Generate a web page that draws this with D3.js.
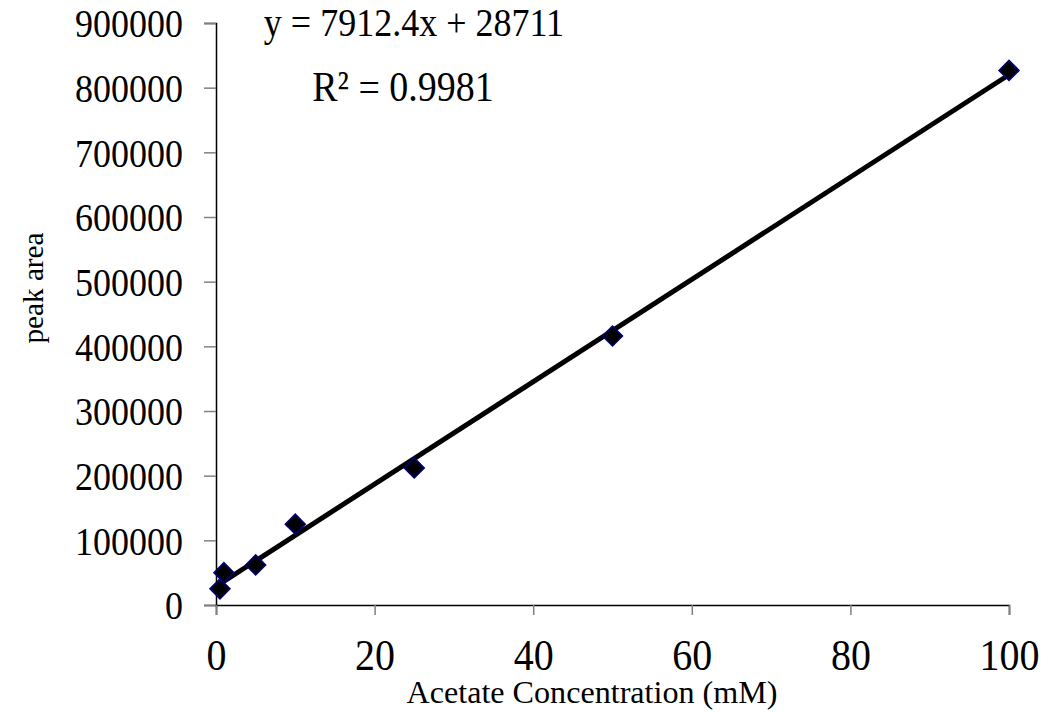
<!DOCTYPE html>
<html>
<head>
<meta charset="utf-8">
<script src="https://cdn.jsdelivr.net/npm/d3@7/dist/d3.min.js"></script>
<style>
  html, body { margin: 0; padding: 0; background: #fff; }
  svg text { font-family: "Liberation Serif", "Times New Roman", serif; fill: #000; }
</style>
</head>
<body>
<svg id="chart" width="1045" height="713"></svg>
<script>
// Calibration data: acetate concentration (mM) vs. peak area
const concentrations = [0.5, 1, 5, 10, 25, 50, 100];
const peakAreas = [25000, 50000, 62000, 125000, 212000, 416000, 826700];

// Linear fit reported for the series
const fitSlope = 7912.4;
const fitIntercept = 28711;
const fitR2 = 0.9981;

const xTicks = [0, 20, 40, 60, 80, 100];
const yTicks = [0, 100000, 200000, 300000, 400000, 500000, 600000, 700000, 800000, 900000];

const xTitle = "Acetate Concentration (mM)";
const yTitle = "peak area";

const svg = d3.select("#chart");
const plot = { left: 216, right: 1009, top: 23, bottom: 605 };
const textStretch = 1.12; // glyphs are drawn slightly taller than wide

const x = d3.scaleLinear().domain([0, 100]).range([plot.left, plot.right]);
const y = d3.scaleLinear().domain([0, 900000]).range([plot.bottom, plot.top]);

// Y axis
const yAxis = svg.append("g")
  .attr("transform", `translate(${plot.left},0)`)
  .call(d3.axisLeft(y).tickValues(yTicks).tickSize(12).tickPadding(21).tickFormat(d3.format("d")));
yAxis.select(".domain").attr("stroke", "#000").attr("stroke-width", 1.5);
yAxis.selectAll(".tick line").attr("stroke", "#808080").attr("stroke-width", 1.5);
yAxis.selectAll(".tick text")
  .attr("font-family", "Liberation Serif, Times New Roman, serif")
  .attr("font-size", 36)
  .attr("dy", "0.34em")
  .attr("transform", `scale(1,${textStretch})`);

// X axis
const xAxis = svg.append("g")
  .attr("transform", `translate(0,${plot.bottom})`)
  .call(d3.axisBottom(x).tickValues(xTicks).tickSize(10).tickFormat(d3.format("d")));
xAxis.select(".domain").attr("stroke", "#000").attr("stroke-width", 1.5);
xAxis.selectAll(".tick line").attr("stroke", "#808080").attr("stroke-width", 1.5);
xAxis.selectAll(".tick text")
  .attr("font-family", "Liberation Serif, Times New Roman, serif")
  .attr("font-size", 40)
  .attr("y", 0)
  .attr("dy", "0.35em")
  .attr("transform", `translate(0,${654 - plot.bottom}) scale(1,${textStretch})`);

// Trend line from the fitted equation over the data range
const xExtent = d3.extent(concentrations);
const fitLine = d3.line().x(d => x(d)).y(d => y(fitSlope * d + fitIntercept));
svg.append("path")
  .datum(xExtent)
  .attr("d", fitLine)
  .attr("fill", "none")
  .attr("stroke", "#000")
  .attr("stroke-width", 5);

// Data markers (diamonds)
const diamond = d3.symbol().type(d3.symbolSquare).size(200);
svg.append("g").selectAll("path")
  .data(concentrations.map((c, i) => [c, peakAreas[i]]))
  .join("path")
  .attr("d", diamond)
  .attr("transform", d => `translate(${x(d[0])},${y(d[1])}) rotate(45)`)
  .attr("fill", "#000")
  .attr("stroke", "#000080")
  .attr("stroke-width", 1.5);

// Equation label
svg.append("text")
  .attr("transform", `translate(414,22) scale(1,${textStretch})`)
  .attr("dy", "0.35em")
  .attr("text-anchor", "middle")
  .attr("font-size", 36)
  .text(`y = ${fitSlope}x + ${fitIntercept}`);
svg.append("text")
  .attr("transform", `translate(403,86) scale(1,${textStretch})`)
  .attr("dy", "0.35em")
  .attr("text-anchor", "middle")
  .attr("font-size", 38)
  .text(`R² = ${fitR2}`);

// Axis titles
svg.append("text")
  .attr("transform", `translate(592,692) scale(1,${textStretch})`)
  .attr("dy", "0.35em")
  .attr("text-anchor", "middle")
  .attr("font-size", 28)
  .attr("textLength", 371).attr("lengthAdjust", "spacingAndGlyphs")
  .text(xTitle);

svg.append("text")
  .attr("transform", `translate(43,288) rotate(-90) scale(1,${textStretch})`)
  .attr("text-anchor", "middle")
  .attr("font-size", 27)
  .attr("textLength", 111).attr("lengthAdjust", "spacingAndGlyphs")
  .text(yTitle);
</script>
</body>
</html>
